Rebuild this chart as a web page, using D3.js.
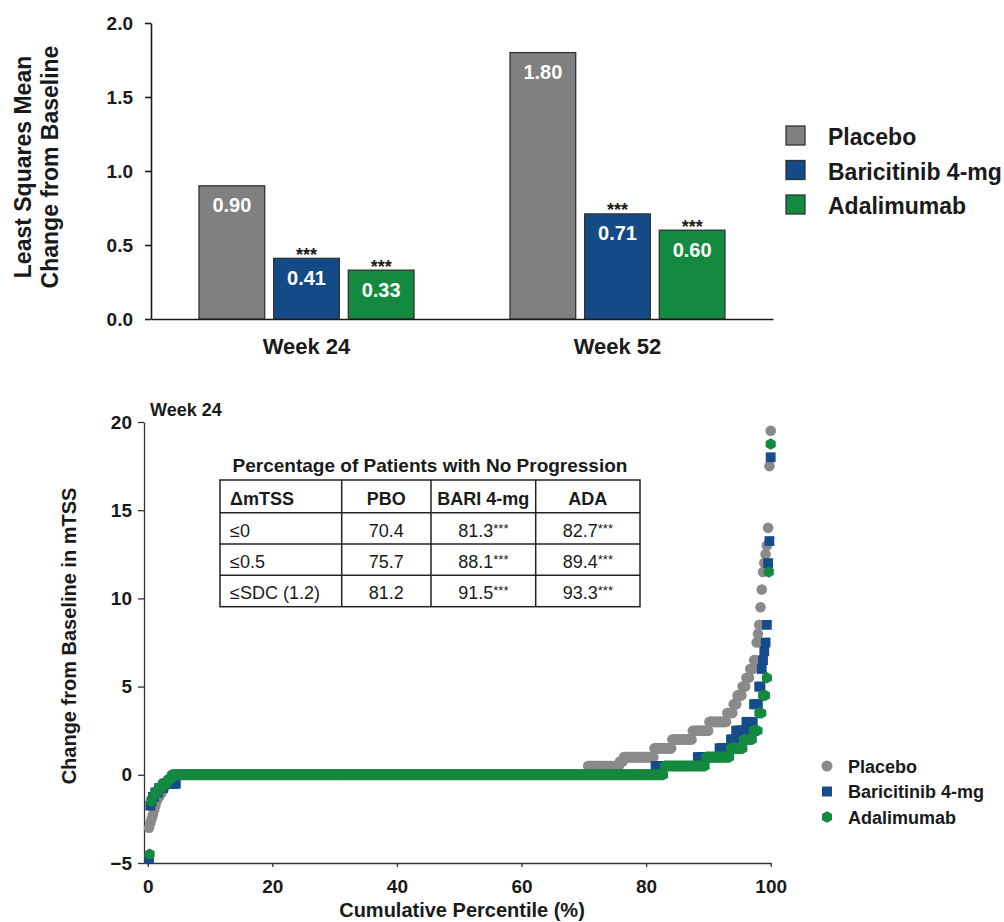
<!DOCTYPE html>
<html>
<head>
<meta charset="utf-8">
<script src="https://cdn.jsdelivr.net/npm/d3@7"></script>
<style>
  body { margin: 0; background: #fff; }
  svg { display: block; font-family: "Liberation Sans", Arial, Helvetica, sans-serif; }
</style>
</head>
<body>
<svg id="chart" width="1004" height="922"></svg>
<script>
// ---- Bar panel: LS mean change from baseline in mTSS ----
const weeks = ["Week 24", "Week 52"];
const treatments = ["Placebo", "Baricitinib 4-mg", "Adalimumab"];
const placeboMean = [0.90, 1.80];
const baricitinibMean = [0.41, 0.71];
const adalimumabMean = [0.33, 0.60];
const significance = ["", "***", "***"];
const meanTicks = [0, 0.5, 1.0, 1.5, 2.0];

// ---- Cumulative probability panel: distinct change values and patient counts ----
const placeboChange = [-3.0, -2.75, -2.5, -2.25, -2.0, -1.75, -1.5, -1.25, -1.0, -0.75, -0.5, -0.25,
  0, 0.5, 0.75, 1.0, 1.5, 2.0, 2.5, 3.0, 3.5, 4.0, 4.5, 5.0, 5.5, 6.0, 6.5, 7.5, 8.0, 8.5,
  9.5, 10.5, 11.5, 12.0, 12.5, 13.0, 14.0, 17.5, 19.5];
const placeboCount = [1, 1, 1, 1, 1, 1, 1, 2, 2, 2, 3, 2,
  326, 25, 3, 24, 14, 16, 13, 14, 5, 3, 4, 3, 3, 3, 2, 1, 1, 1,
  1, 1, 1, 1, 1, 1, 1, 1, 1];

const baricitinibChange = [-4.75, -1.75, -1.5, -1.25, -1.0, -0.75, -0.5,
  0, 0.5, 1.0, 1.5, 2.0, 2.5, 3.0, 4.0, 5.0, 6.0, 6.5, 7.0, 7.5, 8.5, 12.0, 13.25, 18.0];
const baricitinibCount = [1, 1, 1, 2, 3, 4, 10,
  374, 33, 17, 9, 4, 8, 6, 4, 2, 1, 1, 1, 1, 1, 1, 1, 1];

const adalimumabChange = [-4.5, -1.5, -1.25, -1.0, -0.75, -0.5, -0.25,
  0, 0.5, 1.0, 1.5, 2.0, 2.5, 3.5, 4.5, 5.5, 11.5, 18.75];
const adalimumabCount = [1, 1, 1, 2, 2, 3, 2,
  261, 22, 13, 7, 5, 3, 2, 2, 1, 1, 1];

const percentileTicks = [0, 20, 40, 60, 80, 100];
const changeTicks = [-5, 0, 5, 10, 15, 20];

// ---- No-progression table ----
const tableTitle = "Percentage of Patients with No Progression";
const tableHeader = ["\u0394mTSS", "PBO", "BARI 4-mg", "ADA"];
const thresholds = ["\u22640", "\u22640.5", "\u2264SDC (1.2)"];
const pboNoProgression = ["70.4", "75.7", "81.2"];
const bariNoProgression = ["81.3", "88.1", "91.5"];
const adaNoProgression = ["82.7", "89.4", "93.3"];

// ---- styling ----
const barColors = ["#808080", "#134a88", "#138a3f"];
const dotColors = ["#8a8a8a", "#164c8c", "#14893f"];
const ink = "#1a1a1a";

const svg = d3.select("#chart");
svg.append("rect").attr("width", 1004).attr("height", 922).attr("fill", "#fff");

// =================== Bar panel ===================
const yBar = d3.scaleLinear().domain([0, 2]).range([319, 23]);
const xWeek = d3.scaleBand().domain(weeks).range([151, 773]);
const xTrt = d3.scaleBand().domain(treatments).range([48, 263]).paddingInner(0.12);
const means = [placeboMean, baricitinibMean, adalimumabMean];

const barData = [];
weeks.forEach((w, i) => treatments.forEach((t, j) => {
  barData.push({ week: w, trt: t, j, value: means[j][i] });
}));

const barPanel = svg.append("g");

barPanel.selectAll("rect.bar").data(barData).join("rect")
  .attr("class", "bar")
  .attr("x", d => xWeek(d.week) + xTrt(d.trt))
  .attr("y", d => yBar(d.value))
  .attr("width", xTrt.bandwidth())
  .attr("height", d => yBar(0) - yBar(d.value))
  .attr("fill", d => barColors[d.j])
  .attr("stroke", "#333")
  .attr("stroke-width", 1.3);

barPanel.selectAll("text.val").data(barData).join("text")
  .attr("class", "val")
  .attr("x", d => xWeek(d.week) + xTrt(d.trt) + xTrt.bandwidth() / 2)
  .attr("y", d => yBar(d.value) + 26.5)
  .attr("text-anchor", "middle")
  .attr("fill", "#fff")
  .attr("font-weight", "bold")
  .attr("font-size", 20)
  .text(d => d3.format(".2f")(d.value));

barPanel.selectAll("text.sig").data(barData.filter(d => significance[d.j])).join("text")
  .attr("class", "sig")
  .attr("x", d => xWeek(d.week) + xTrt(d.trt) + xTrt.bandwidth() / 2)
  .attr("y", d => yBar(d.value) + 2.5)
  .attr("text-anchor", "middle")
  .attr("fill", ink)
  .attr("font-weight", "bold")
  .attr("font-size", 18)
  .text(d => significance[d.j]);

const yBarAxis = barPanel.append("g")
  .attr("transform", "translate(151,0)")
  .call(d3.axisLeft(yBar).tickValues(meanTicks).tickFormat(d3.format(".1f"))
    .tickSize(6).tickSizeOuter(0).tickPadding(12));
yBarAxis.selectAll("text").attr("font-size", 19).attr("font-weight", "bold").attr("fill", ink);
yBarAxis.attr("font-family", null);
yBarAxis.selectAll("line, path").attr("stroke", ink).attr("stroke-width", 1.6);

const xBarAxis = barPanel.append("g")
  .attr("transform", "translate(0,319)")
  .call(d3.axisBottom(xWeek).tickSize(0).tickPadding(19.4));
xBarAxis.attr("font-family", null);
xBarAxis.selectAll("text").attr("font-size", 22).attr("font-weight", "bold").attr("fill", ink);
xBarAxis.select("path").attr("stroke", ink).attr("stroke-width", 1.6);

barPanel.append("text")
  .attr("transform", "translate(31,167) rotate(-90)")
  .attr("text-anchor", "middle").attr("font-size", 23).attr("font-weight", "bold").attr("fill", ink)
  .text("Least Squares Mean");
barPanel.append("text")
  .attr("transform", "translate(58,167) rotate(-90)")
  .attr("text-anchor", "middle").attr("font-size", 23).attr("font-weight", "bold").attr("fill", ink)
  .text("Change from Baseline");

// bar legend
const barLegend = barPanel.append("g").attr("transform", "translate(786,126)");
treatments.forEach((t, j) => {
  const g = barLegend.append("g").attr("transform", `translate(0,${j * 34.5})`);
  g.append("rect").attr("width", 19).attr("height", 19)
    .attr("fill", barColors[j]).attr("stroke", "#333").attr("stroke-width", 1.3);
  g.append("text").attr("x", 42).attr("y", 19).attr("font-size", 23).attr("font-weight", "bold")
    .attr("fill", ink).text(t);
});

// =================== Cumulative panel ===================
const xPct = d3.scaleLinear().domain([-0.6, 100]).range([144, 770.7]);
const yChg = d3.scaleLinear().domain([-5, 20]).range([863, 422]);

// one point per patient, ranked by change value
function cumulative(values, counts) {
  const n = d3.sum(counts);
  const pts = [];
  let rank = 0;
  values.forEach((v, i) => {
    for (let k = 0; k < counts[i]; k++) {
      rank += 1;
      pts.push({ pct: rank / n * 100, value: v });
    }
  });
  return pts;
}

const pboPts = cumulative(placeboChange, placeboCount);
const bariPts = cumulative(baricitinibChange, baricitinibCount);
const adaPts = cumulative(adalimumabChange, adalimumabCount);

const hexPath = r => d3.line()(d3.range(6).map(k => {
  const a = Math.PI / 3 * k - Math.PI / 2;
  return [r * Math.cos(a), r * Math.sin(a)];
})) + "Z";

const cumPanel = svg.append("g");

const yAx = cumPanel.append("g").attr("transform", "translate(144,0)")
  .call(d3.axisLeft(yChg).tickValues(changeTicks).tickSize(6).tickSizeOuter(0).tickPadding(6));
yAx.attr("font-family", null);
yAx.selectAll("text").attr("font-size", 19).attr("font-weight", "bold").attr("fill", ink);
yAx.selectAll("line, path").attr("stroke", "#333").attr("stroke-width", 1.3);

const xAx = cumPanel.append("g").attr("transform", "translate(0,863)")
  .call(d3.axisBottom(xPct).tickValues(percentileTicks).tickSize(4).tickSizeOuter(0).tickPadding(12.2));
xAx.attr("font-family", null);
xAx.selectAll("text").attr("font-size", 19).attr("font-weight", "bold").attr("fill", ink);
xAx.selectAll("line, path").attr("stroke", "#333").attr("stroke-width", 1.3);

const plot = cumPanel.append("g");
plot.selectAll("circle.pbo").data(pboPts).join("circle")
  .attr("class", "pbo")
  .attr("cx", d => xPct(d.pct)).attr("cy", d => yChg(d.value))
  .attr("r", 5.3).attr("fill", dotColors[0]);
plot.selectAll("rect.bari").data(bariPts).join("rect")
  .attr("class", "bari")
  .attr("x", d => xPct(d.pct) - 4.9).attr("y", d => yChg(d.value) - 4.9)
  .attr("width", 9.8).attr("height", 9.8).attr("fill", dotColors[1]);
plot.selectAll("path.ada").data(adaPts).join("path")
  .attr("class", "ada")
  .attr("transform", d => `translate(${xPct(d.pct)},${yChg(d.value)})`)
  .attr("d", hexPath(5.8)).attr("fill", dotColors[2]);

cumPanel.append("text").attr("x", 150).attr("y", 416)
  .attr("font-size", 18).attr("font-weight", "bold").attr("fill", ink).text("Week 24");

cumPanel.append("text")
  .attr("transform", "translate(76,636) rotate(-90)")
  .attr("text-anchor", "middle").attr("font-size", 20).attr("font-weight", "bold").attr("fill", ink)
  .text("Change from Baseline in mTSS");

cumPanel.append("text").attr("x", 462).attr("y", 917)
  .attr("text-anchor", "middle").attr("font-size", 20).attr("font-weight", "bold").attr("fill", ink)
  .text("Cumulative Percentile (%)");

// scatter legend
const dotLegend = cumPanel.append("g").attr("transform", "translate(827,766)");
treatments.forEach((t, j) => {
  const g = dotLegend.append("g").attr("transform", `translate(0,${j * 25.5})`);
  if (j === 0) g.append("circle").attr("r", 5.5).attr("fill", dotColors[0]);
  if (j === 1) g.append("rect").attr("x", -5).attr("y", -5).attr("width", 10).attr("height", 10).attr("fill", dotColors[1]);
  if (j === 2) g.append("path").attr("d", hexPath(5.8)).attr("fill", dotColors[2]);
  g.append("text").attr("x", 21).attr("y", 6.5).attr("font-size", 18).attr("font-weight", "bold")
    .attr("fill", ink).text(t);
});

// ---- table ----
const colEdges = [220, 341.7, 431, 535.7, 640];
const rowEdges = [480, 512.7, 544, 575.3, 606.7];
const tbl = cumPanel.append("g");

tbl.append("text").attr("x", 430).attr("y", 472).attr("text-anchor", "middle")
  .attr("font-size", 19).attr("font-weight", "bold").attr("fill", ink).text(tableTitle);

tbl.append("rect").attr("x", colEdges[0]).attr("y", rowEdges[0])
  .attr("width", colEdges[4] - colEdges[0]).attr("height", rowEdges[4] - rowEdges[0])
  .attr("fill", "none").attr("stroke", "#222").attr("stroke-width", 1.5);
colEdges.slice(1, -1).forEach(x => tbl.append("line")
  .attr("x1", x).attr("x2", x).attr("y1", rowEdges[0]).attr("y2", rowEdges[4])
  .attr("stroke", "#222").attr("stroke-width", 1.5));
rowEdges.slice(1, -1).forEach(y => tbl.append("line")
  .attr("x1", colEdges[0]).attr("x2", colEdges[4]).attr("y1", y).attr("y2", y)
  .attr("stroke", "#222").attr("stroke-width", 1.5));

const cellX = c => c === 0 ? colEdges[0] + 10 : (colEdges[c] + colEdges[c + 1]) / 2;
tableHeader.forEach((h, c) => {
  tbl.append("text").attr("x", cellX(c)).attr("y", rowEdges[0] + 25)
    .attr("text-anchor", c === 0 ? "start" : "middle")
    .attr("font-size", 18).attr("font-weight", "bold").attr("fill", ink).text(h);
});
const columns = [thresholds, pboNoProgression, bariNoProgression, adaNoProgression];
thresholds.forEach((_, r) => {
  columns.forEach((col, c) => {
    const t = tbl.append("text").attr("x", cellX(c)).attr("y", rowEdges[r + 1] + 24)
      .attr("text-anchor", c === 0 ? "start" : "middle")
      .attr("font-size", 18).attr("fill", ink);
    t.append("tspan").text(col[r]);
    if (c >= 2) t.append("tspan").attr("font-size", 13).attr("dy", -4).text("***");
  });
});
</script>
</body>
</html>
